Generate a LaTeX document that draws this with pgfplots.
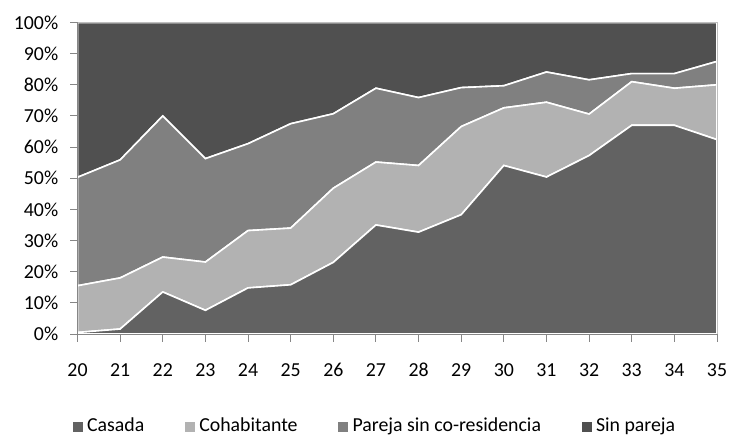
\documentclass[border=0pt]{standalone}
\usepackage{fontspec}
\setmainfont{Carlito}
\usepackage{pgfplots}
\usepackage{pgfplotstable}
\pgfplotsset{compat=1.18}
\definecolor{casada}{HTML}{626262}
\definecolor{cohab}{HTML}{B2B2B2}
\definecolor{pareja}{HTML}{808080}
\definecolor{sinp}{HTML}{505050}
\definecolor{axgray}{HTML}{868686}
\definecolor{boxgray}{HTML}{BFBFBF}
\pgfplotstableread{
age casada cohab pareja sin
20 0.5  15.0 34.8 49.7
21 1.6  16.4 37.9 44.1
22 13.5 11.2 45.3 30.0
23 7.6  15.5 33.2 43.7
24 14.8 18.4 27.9 38.9
25 15.8 18.2 33.5 32.5
26 23.0 23.8 23.9 29.3
27 35.0 20.2 23.7 21.1
28 32.7 21.4 21.8 24.1
29 38.3 28.3 12.5 20.9
30 54.1 18.5 7.1  20.3
31 50.4 24.0 9.7  15.9
32 57.3 13.3 11.0 18.4
33 67.0 14.0 2.6  16.4
34 67.0 11.9 4.7  16.4
35 62.4 17.6 7.5  12.5
}\datatable
\begin{document}
\fontsize{19.9}{23}\selectfont
\begin{tikzpicture}
\path[use as bounding box] (-77.5bp,-104bp) rectangle (653.5bp,334bp);
\begin{axis}[
  name=ax,
  at={(0,0)}, anchor=south west,
  scale only axis, width=639.5bp, height=311.5bp,
  xmin=20, xmax=35, ymin=0, ymax=100,
  stack plots=y,
  axis on top=true,
  axis x line*=bottom, axis y line*=left,
  axis line style={draw=axgray, line width=0.9bp},
  every inner x axis line/.append style={-},
  every inner y axis line/.append style={-},
  tick align=outside,
  major tick length=7.5bp,
  tick style={draw=axgray, line width=0.9bp},
  xtick={20,...,35},
  xticklabels={20,21,22,23,24,25,26,27,28,29,30,31,32,33,34,35},
  ytick={0,10,...,100},
  yticklabels={0\%,10\%,20\%,30\%,40\%,50\%,60\%,70\%,80\%,90\%,100\%},
  tick label style={font=\fontsize{19.9}{23}\selectfont, text=black},
  xticklabel style={yshift=-15bp},
  yticklabel style={xshift=-5bp},
  legend style={draw=none, fill=none, at={(0.467,-0.297)}, anchor=center,
    font=\fontsize{19.9}{23}\selectfont, legend columns=4,
    nodes={inner xsep=4.5bp, inner ysep=2bp},
    /tikz/every even column/.append style={column sep=36bp}},
  legend image code/.code={\path[#1, draw=none] (0bp,-5bp) rectangle (10bp,5bp);},
]
\addplot[fill=casada, draw=white, line width=1.6bp] table[x=age, y=casada]{\datatable} \closedcycle;
\addlegendentry{Casada}
\addplot[fill=cohab, draw=white, line width=1.6bp] table[x=age, y=cohab]{\datatable} \closedcycle;
\addlegendentry{Cohabitante}
\addplot[fill=pareja, draw=white, line width=1.6bp] table[x=age, y=pareja]{\datatable} \closedcycle;
\addlegendentry{Pareja sin co-residencia}
\addplot[fill=sinp, draw=white, line width=1.6bp] table[x=age, y=sin]{\datatable} \closedcycle;
\addlegendentry{Sin pareja}
\end{axis}
\draw[boxgray, line width=0.9bp] (ax.north west) -- (ax.north east) -- (ax.south east);
\end{tikzpicture}
\end{document}
